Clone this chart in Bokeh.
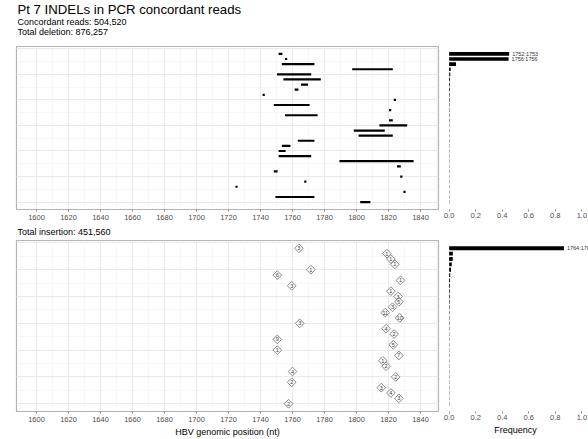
import numpy as np
from bokeh.plotting import figure
from bokeh.models import (Range1d, ColumnDataSource, Title, Grid, SingleIntervalTicker,
                          FixedTicker, NumeralTickFormatter)
from bokeh.layouts import column, row
from bokeh.embed import file_html
from bokeh.resources import INLINE
from bokeh.core.properties import value

FONT = "Liberation Sans"

# ---------------- data ----------------
title_text = "Pt 7 INDELs in PCR concordant reads"
subtitle_1 = "Concordant reads: 504,520"
subtitle_2 = "Total deletion: 876,257"
subtitle_3 = "Total insertion: 451,560"

del_start = [1752, 1756, 1754, 1798, 1751, 1755, 1766, 1762, 1742, 1824,
             1749, 1821, 1756, 1821, 1815, 1799, 1802, 1764, 1754, 1752,
             1752, 1790, 1826, 1749, 1828, 1768, 1725, 1830, 1750, 1803]
del_end = [1753, 1756, 1773, 1822, 1771, 1777, 1769, 1763, 1742, 1824,
           1770, 1821, 1775, 1822, 1831, 1817, 1822, 1773, 1758, 1755,
           1771, 1835, 1827, 1750, 1828, 1768, 1725, 1830, 1773, 1808]
del_freq = [0.452, 0.448, 0.052, 0.012, 0.008, 0.006, 0.005, 0.005, 0.004, 0.004,
            0.003, 0.003, 0.003, 0.003, 0.002, 0.002, 0.002, 0.002, 0.002, 0.002,
            0.002, 0.002, 0.002, 0.002, 0.002, 0.002, 0.002, 0.002, 0.002, 0.002]
del_bar_labels = ["1752:1753", "1756:1756"]

ins_pos = [1764, 1819, 1821.5, 1824, 1771.5, 1750.5, 1827.5, 1759.5, 1821.5, 1826,
           1826.5, 1822.5, 1818, 1827, 1764.5, 1818.5, 1823.5, 1750.5, 1823, 1750.5,
           1826.5, 1816.5, 1818.5, 1760, 1824.5, 1759.5, 1815.5, 1821.5, 1826.5, 1757.5]
ins_len = [3, 1, 1, 1, 1, 6, 1, 3, 1, 3,
           5, 3, 11, 10, 3, 4, 2, 9, 5, 1,
           7, 1, 2, 4, 2, 2, 3, 4, 3, 2]
ins_freq = [0.865, 0.028, 0.027, 0.02, 0.014, 0.008, 0.007, 0.006, 0.005, 0.005,
            0.004, 0.004, 0.003, 0.003, 0.003, 0.003, 0.002, 0.002, 0.002, 0.002,
            0.002, 0.002, 0.002, 0.002, 0.002, 0.002, 0.002, 0.002, 0.002, 0.002]
ins_bar_labels = ["1764:1765"]

freq_ticks = [0.0, 0.2, 0.4, 0.6, 0.8, 1.0]

n_del = len(del_start)
n_ins = len(ins_pos)
del_rows = list(range(1, n_del + 1))
ins_rows = list(range(1, n_ins + 1))

# ---------------- styling helpers ----------------
TICK_COL = "#4d4d4d"
GRID_MAJ = "#e6e6e6"
GRID_MIN = "#f2f2f2"

X_RANGE = (1587.5, 1851.25)
F_RANGE = (-0.05, 1.05)


def style_xaxis(p, ticker, fmt=None):
    ax = p.xaxis[0]
    ax.ticker = ticker
    if fmt is not None:
        ax.formatter = fmt
    ax.axis_line_color = None
    ax.major_tick_line_color = "#666666"
    ax.major_tick_line_width = 0.8
    ax.major_tick_out = 2
    ax.major_tick_in = 0
    ax.minor_tick_line_color = None
    ax.major_label_text_font = FONT
    ax.major_label_text_font_size = "7.5px"
    ax.major_label_text_color = TICK_COL
    ax.major_label_standoff = 1
    ax.axis_label_text_font = FONT
    ax.axis_label_text_font_size = "9px"
    ax.axis_label_text_font_style = "normal"
    ax.axis_label_text_color = "#000000"
    ax.axis_label_standoff = 2


def left_panel(height, top, bottom, xlabel=None):
    p = figure(width=442, height=height,
               x_range=Range1d(*X_RANGE), y_range=Range1d(31.45, -0.45),
               output_backend="svg", toolbar_location=None,
               y_axis_location=None, x_axis_label=xlabel,
               min_border_left=16, min_border_right=4,
               min_border_top=top, min_border_bottom=bottom)
    style_xaxis(p, SingleIntervalTicker(interval=20, num_minor_ticks=2))
    p.xgrid.grid_line_color = GRID_MAJ
    p.xgrid.grid_line_width = 0.9
    p.xgrid.minor_grid_line_color = GRID_MIN
    p.xgrid.minor_grid_line_width = 0.6
    p.ygrid.visible = False
    yg = Grid(dimension=1, ticker=SingleIntervalTicker(interval=5, num_minor_ticks=2),
              grid_line_color=GRID_MAJ, grid_line_width=0.9,
              minor_grid_line_color=GRID_MIN, minor_grid_line_width=0.6)
    p.add_layout(yg)
    p.outline_line_color = "#b3b3b3"
    p.outline_line_width = 1.2
    p.background_fill_color = "white"
    p.border_fill_color = "white"
    return p


def right_panel(height, top, bottom, xlabel=None):
    p = figure(width=146, height=height,
               x_range=Range1d(*F_RANGE), y_range=Range1d(31.45, -0.45),
               output_backend="svg", toolbar_location=None,
               y_axis_location=None, x_axis_label=xlabel,
               min_border_left=0, min_border_right=0,
               min_border_top=top, min_border_bottom=bottom)
    style_xaxis(p, FixedTicker(ticks=freq_ticks), NumeralTickFormatter(format="0.0"))
    p.xgrid.visible = False
    p.ygrid.visible = False
    p.outline_line_color = None
    p.background_fill_color = "white"
    p.border_fill_color = "white"
    return p


# ---------------- header with title and subtitles ----------------
HDR_H = 36
hdr = figure(width=588, height=HDR_H, x_range=Range1d(0, 1), y_range=Range1d(0, 1),
             output_backend="svg", toolbar_location=None,
             x_axis_location=None, y_axis_location=None,
             min_border_left=16, min_border_right=0,
             min_border_top=HDR_H - 1, min_border_bottom=0)
hdr.xgrid.visible = False
hdr.ygrid.visible = False
hdr.outline_line_color = None
hdr.border_fill_color = "white"
hdr.background_fill_color = "white"
for txt, size in [(subtitle_2, "9px"), (subtitle_1, "9px"), (title_text, "13.2px")]:
    hdr.add_layout(Title(text=txt, text_font=FONT, text_font_size=size,
                         text_font_style="normal", text_color="#000000",
                         align="left", standoff=-2, offset=1), "above")

TOP_B, TOP_F, TOP_BOT = 46 - HDR_H, 163, 13
BOT_B, BOT_F, BOT_BOT = 18, 171, 28
H1 = TOP_B + TOP_F + TOP_BOT
H2 = BOT_B + BOT_F + BOT_BOT

# ---------------- top-left: deletions ----------------
tl = left_panel(H1, TOP_B, TOP_BOT)
del_src = ColumnDataSource(dict(x0=del_start, x1=del_end, y=del_rows))
tl.segment(x0="x0", x1="x1", y0="y", y1="y", source=del_src,
           line_color="black", line_width=2.2, line_cap="square")

# ---------------- top-right: deletion frequency ----------------
tr = right_panel(H1, TOP_B, TOP_BOT)
tr.hbar(y=del_rows, left=0, right=del_freq, height=0.72,
        fill_color="black", line_color=None)
tr.text(x=del_freq[:len(del_bar_labels)], y=del_rows[:len(del_bar_labels)],
        text=del_bar_labels, x_offset=3, text_baseline="middle", text_align="left",
        text_font=value(FONT), text_font_size="5.5px", text_color="#333333")

# ---------------- bottom-left: insertions ----------------
bl = left_panel(H2, BOT_B, BOT_BOT, xlabel="HBV genomic position (nt)")
bl.add_layout(Title(text=subtitle_3, text_font=FONT, text_font_size="9px",
                    text_font_style="normal", text_color="#000000",
                    align="left", vertical_align="top", standoff=3, offset=1), "above")
ins_src = ColumnDataSource(dict(x=ins_pos, y=ins_rows, t=[str(v) for v in ins_len]))
bl.scatter(x="x", y="y", source=ins_src, marker="square", angle=np.pi / 4, size=6.2,
           fill_color="#fbfbfb", line_color="#6e6e6e", line_width=0.8)
bl.text(x="x", y="y", text="t", source=ins_src, text_align="center",
        text_baseline="middle", text_font=value(FONT), text_font_size="5.5px",
        text_color="#404040")

# ---------------- bottom-right: insertion frequency ----------------
br = right_panel(H2, BOT_B, BOT_BOT, xlabel="Frequency")
br.hbar(y=ins_rows, left=0, right=ins_freq, height=0.72,
        fill_color="black", line_color=None)
br.text(x=ins_freq[:len(ins_bar_labels)], y=ins_rows[:len(ins_bar_labels)],
        text=ins_bar_labels, x_offset=3, text_baseline="middle", text_align="left",
        text_font=value(FONT), text_font_size="5.5px", text_color="#333333")

layout = column(hdr, row(tl, tr, spacing=0), row(bl, br, spacing=0), spacing=0)

open("out.html", "w").write(file_html(layout, INLINE))
